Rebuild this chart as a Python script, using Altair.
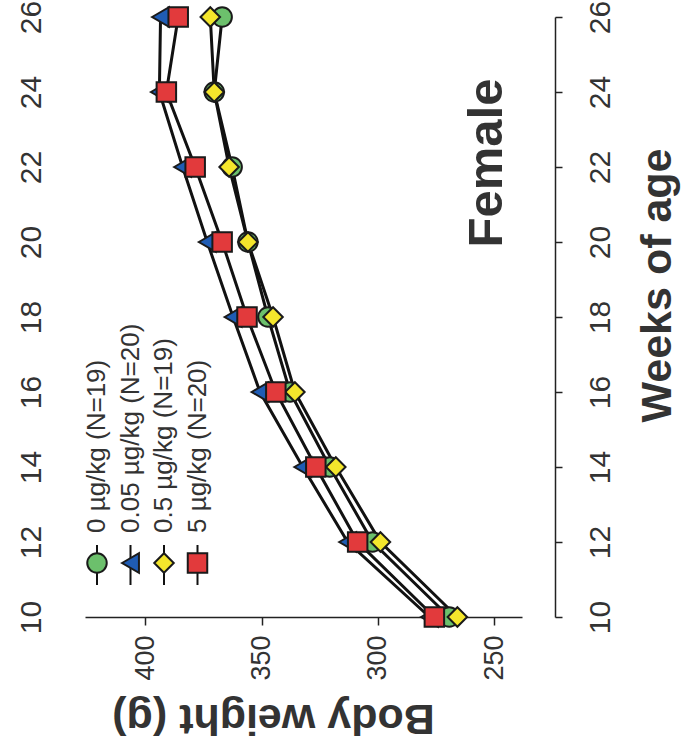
import altair as alt
import pandas as pd

weeks = [10, 12, 14, 16, 18, 20, 22, 24, 26]
series = ["0", "0.05", "0.5", "5"]
legend_labels = ["0 µg/kg (N=19)", "0.05 µg/kg (N=20)", "0.5 µg/kg (N=19)", "5 µg/kg (N=20)"]
w_0 = [269.3, 302.3, 320.7, 337.8, 347.3, 355.9, 362.7, 370.4, 367.0]
w_005 = [277.8, 313.0, 332.3, 350.7, 362.3, 373.4, 384.0, 394.0, 393.5]
w_05 = [265.8, 298.9, 318.1, 335.7, 345.1, 355.9, 364.0, 370.4, 372.1]
w_5 = [275.7, 308.7, 326.7, 343.9, 356.3, 367.0, 378.6, 391.0, 385.9]
fills = ["#6cc06c", "#1f5cb4", "#f4e62c", "#e23a3c"]
shapes = ["circle", "triangle-left", "diamond", "square"]
week_ticks = [10, 12, 14, 16, 18, 20, 22, 24, 26]
weight_ticks = [250, 300, 350, 400]

rows = []
for i, (s, vals) in enumerate(zip(series, [w_0, w_005, w_05, w_5])):
    for wk, v in zip(weeks, vals):
        rows.append({"series": s, "week": wk, "weight": v, "ord": i})
df = pd.DataFrame(rows)
leg = pd.DataFrame({"series": series, "label": legend_labels, "idx": list(range(len(series)))})

FONT = "Liberation Sans"
xscale = alt.Scale(domain=[238, 426], reverse=True, nice=False, zero=False)
yscale = alt.Scale(domain=[10, 26], nice=False, zero=False)
shape_scale = alt.Scale(domain=series, range=shapes)
fill_scale = alt.Scale(domain=series, range=fills)

xaxis = alt.Axis(values=weight_ticks, title="Body weight (g)", grid=False,
                 domainColor="#222", domainWidth=1.5, tickColor="#222", tickWidth=1.5, tickSize=8,
                 labelAngle=270, labelAlign="right", labelBaseline="middle", labelPadding=10,
                 labelFont=FONT, labelFontSize=27, labelColor="#333",
                 titleFont=FONT, titleFontSize=43, titleFontWeight="bold", titleColor="#333",
                 titleAngle=180, titleAlign="center", titleBaseline="middle", titleX=188, titleY=100)
yaxis_r = alt.Axis(orient="right", values=week_ticks, title="Weeks of age", grid=False, offset=33,
                   domainColor="#222", domainWidth=1.5, tickColor="#222", tickWidth=1.5, tickSize=7,
                   labelAngle=270, labelAlign="center", labelBaseline="top", labelPadding=23,
                   labelFont=FONT, labelFontSize=30, labelColor="#333",
                   titleFont=FONT, titleFontSize=43, titleFontWeight="bold", titleColor="#333",
                   titleAngle=270, titleAlign="center", titleBaseline="middle", titleX=102, titleY=268)
yaxis_l = alt.Axis(orient="left", values=week_ticks, title=None, grid=False, domain=False, ticks=False,
                   labelAngle=270, labelAlign="center", labelBaseline="alphabetic", labelPadding=45,
                   labelFont=FONT, labelFontSize=30, labelColor="#333")

base = alt.Chart(df)
lines = base.mark_line(color="#111", strokeWidth=3).encode(
    x=alt.X("weight:Q", scale=xscale, axis=xaxis),
    y=alt.Y("week:Q", scale=yscale, axis=yaxis_r),
    detail="series:N",
    order="week:Q",
)
points = base.mark_point(filled=True, opacity=1, stroke="#1a1a1a", strokeWidth=2, size=380).encode(
    x=alt.X("weight:Q", scale=xscale),
    y=alt.Y("week:Q", scale=yscale),
    shape=alt.Shape("series:N", scale=shape_scale, legend=None),
    fill=alt.Fill("series:N", scale=fill_scale, legend=None),
    order="ord:Q",
)
left_axis = base.mark_point(opacity=0).encode(
    x=alt.X("weight:Q", scale=xscale),
    y=alt.Y("week:Q", scale=yscale, axis=yaxis_l),
)

legbase = alt.Chart(leg).transform_calculate(lx="12 + 33.5 * datum.idx")
leg_rule = legbase.mark_rule(color="#111", strokeWidth=2).encode(
    x=alt.X("lx:Q", scale=None, axis=None), y=alt.value(528), y2=alt.value(568))
leg_pts = legbase.mark_point(filled=True, opacity=1, stroke="#1a1a1a", strokeWidth=2, size=380).encode(
    x=alt.X("lx:Q", scale=None, axis=None), y=alt.value(546),
    shape=alt.Shape("series:N", scale=shape_scale, legend=None),
    fill=alt.Fill("series:N", scale=fill_scale, legend=None))
leg_txt = legbase.mark_text(angle=270, align="left", baseline="middle", font=FONT, fontSize=26,
                            color="#333").encode(
    x=alt.X("lx:Q", scale=None, axis=None), y=alt.value(516), text="label:N")

female = alt.Chart(pd.DataFrame({"t": ["Female"]})).mark_text(
    angle=270, align="center", baseline="middle", font=FONT, fontSize=49, fontWeight="bold",
    color="#333").encode(x=alt.value(402), y=alt.value(146), text="t:N")

inner = alt.layer(lines, points, leg_rule, leg_pts, leg_txt, female)
chart = alt.layer(inner, left_axis).resolve_axis(y="independent").properties(
    width=437, height=600,
    background="white",
    autosize=alt.AutoSizeParams(type="none"),
    padding={"left": 85, "top": 17, "right": 169, "bottom": 132},
).configure_view(strokeWidth=0, stroke="transparent")

chart.save("out.html", embed_options={"renderer": "svg", "actions": False})
